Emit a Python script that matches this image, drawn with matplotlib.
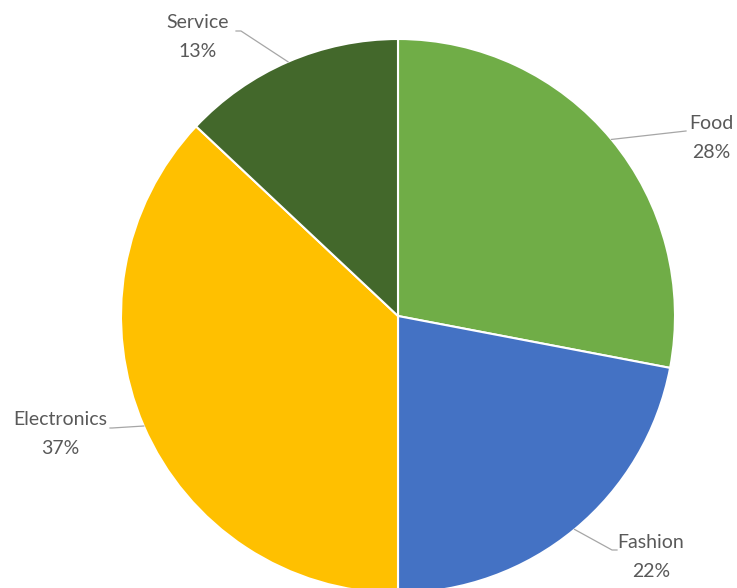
import numpy as np
import matplotlib.pyplot as plt

categories = ["Food", "Fashion", "Electronics", "Service"]
shares = [28, 22, 37, 13]
colors = ["#70AD47", "#4472C4", "#FFC000", "#43682B"]

# label text centres and the elbow where each leader line bends (pixel coords, y down)
label_pos = {"Food": (711, 138), "Fashion": (651, 557),
             "Electronics": (60, 434), "Service": (198, 37)}
elbow_pos = {"Food": (686, 131), "Fashion": (612, 550),
             "Electronics": (112, 428), "Service": (241, 31)}
line_end = {"Food": (686, 131), "Fashion": (617, 550),
            "Electronics": (110, 428), "Service": (236, 31)}

W, H = 737, 588
fig = plt.figure(figsize=(W / 100, H / 100), dpi=100)
ax = fig.add_axes([0, 0, 1, 1])

cx, cy, r = 398, 316, 277
wedges, _ = ax.pie(shares, colors=colors, startangle=90, counterclock=False,
                   center=(cx, H - cy), radius=r, frame=True,
                   wedgeprops=dict(edgecolor="white", linewidth=1.5))
ax.set_xlim(0, W)
ax.set_ylim(0, H)
ax.set_aspect("equal")
ax.axis("off")

font = dict(family=["Lato", "DejaVu Sans"], fontsize=14, color="#595959")
total = sum(shares)
for w, name, val in zip(wedges, categories, shares):
    mid = np.deg2rad((w.theta1 + w.theta2) / 2)
    px = cx + r * np.cos(mid)
    py = H - cy + r * np.sin(mid)
    ex, ey = elbow_pos[name]
    lx, ly = line_end[name]
    ax.plot([px, ex, lx], [py, H - ey, H - ly], color="#A6A6A6", lw=0.9)
    tx, ty = label_pos[name]
    ax.text(tx, H - ty, f"{name}\n{round(val / total * 100)}%", ha="center",
            va="center", linespacing=1.8, **font)

fig.savefig("out.png", dpi=100)
